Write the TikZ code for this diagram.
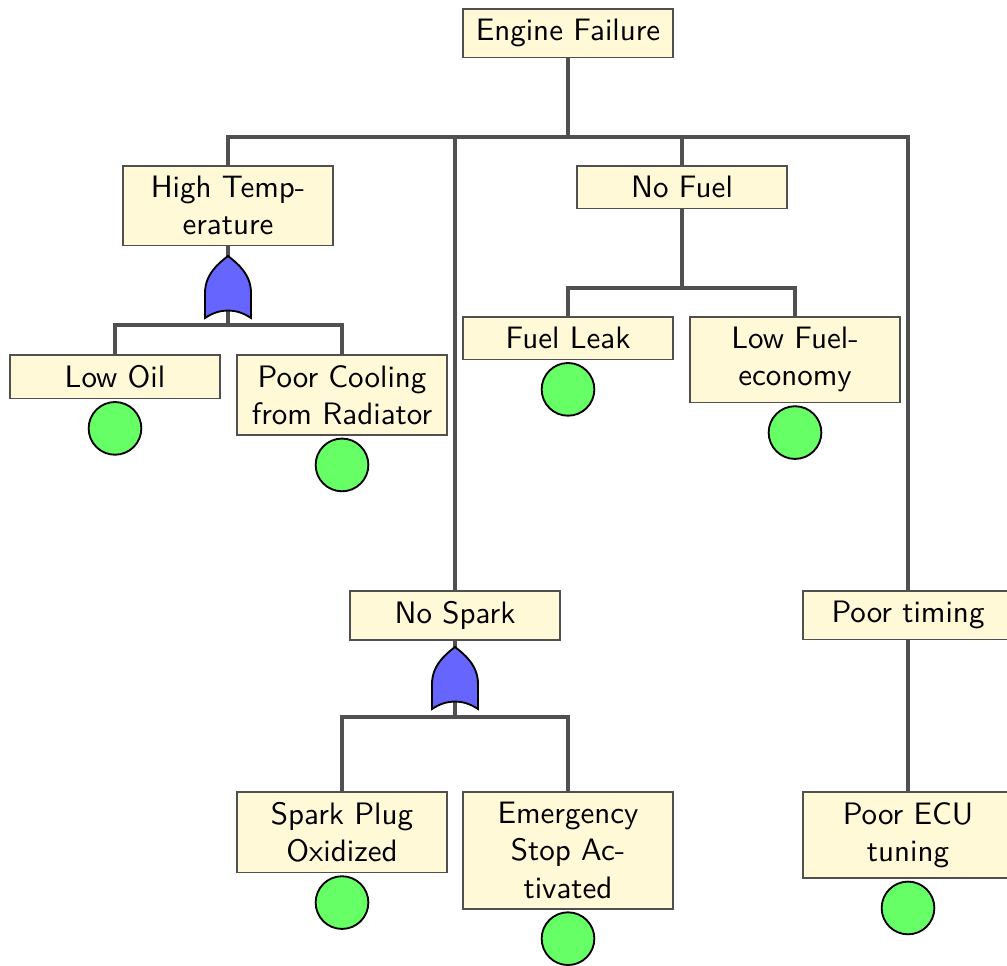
\documentclass[tikz,border=0pt]{standalone}
\usetikzlibrary{positioning}
\definecolor{boxfill}{RGB}{255,249,215}
\definecolor{linegray}{RGB}{80,80,80}
\definecolor{gatefill}{RGB}{102,102,255}
\definecolor{basicfill}{RGB}{102,255,102}
\tikzset{
  event/.style={draw=linegray, line width=0.55pt, fill=boxfill, font=\sffamily,
    align=center, minimum width=67.7pt, inner sep=0.3333em, anchor=north},
  basic/.style={circle, draw=black, line width=0.6pt, fill=basicfill,
    minimum size=17pt, inner sep=0pt},
  edge/.style={draw=linegray, line width=1pt},
  orgate/.pic={
    \draw[black, line width=0.6pt, fill=gatefill]
      (-23,0) -- (-23,-25) .. controls (-23,-44) and (-9,-55) .. (0,-62)
      .. controls (9,-55) and (23,-44) .. (23,-25) -- (23,0)
      .. controls (8,-10) and (-8,-10) .. (-23,0) -- cycle;
  }
}
\begin{document}
\begin{tikzpicture}[x=0.32258pt, y=-0.32258pt]
  \useasboundingbox (0,0) rectangle (1007,966);

  % events
  \node[event] (top) at (568,8)   {Engine Failure};
  \node[event] (ht)  at (228,165) {High Temp-\\erature};
  \node[event] (nf)  at (682,165) {No Fuel};
  \node[event] (ns)  at (455,590) {No Spark};
  \node[event] (pt)  at (908,590) {Poor timing};
  \node[event] (lo)  at (115,354) {Low Oil};
  \node[event] (pc)  at (342,354) {Poor Cooling\\from Radiator};
  \node[event] (fl)  at (568,316) {Fuel Leak};
  \node[event] (lf)  at (795,316) {Low Fuel-\\economy};
  \node[event] (sp)  at (342,791) {Spark Plug\\Oxidized};
  \node[event] (es)  at (568,791) {Emergency\\Stop Ac-\\tivated};
  \node[event] (pe)  at (908,791) {Poor ECU\\tuning};

  % junction points of the branches
  \coordinate (j0) at (568,137);
  \coordinate (j1) at (228,325);
  \coordinate (j2) at (682,288);
  \coordinate (j3) at (455,717);
  \coordinate (g1) at (228,318);
  \coordinate (g2) at (455,709);

  % connectors
  \draw[edge] (top.south) -- (j0) -| (ht.north);
  \draw[edge] (j0) -| (ns.north);
  \draw[edge] (j0) -| (nf.north);
  \draw[edge] (j0) -| (pt.north);
  \draw[edge] (ht.south) -- (j1) -| (lo.north);
  \draw[edge] (j1) -| (pc.north);
  \draw[edge] (nf.south) -- (j2) -| (fl.north);
  \draw[edge] (j2) -| (lf.north);
  \draw[edge] (ns.south) -- (j3) -| (sp.north);
  \draw[edge] (j3) -| (es.north);
  \draw[edge] (pt.south) -- (pe.north);

  % OR gates
  \pic at (g1) {orgate};
  \pic at (g2) {orgate};

  % basic events
  \node[basic, below=0.6pt of lo] (lo-b) {};
  \node[basic, below=0.6pt of pc] (pc-b) {};
  \node[basic, below=0.6pt of fl] (fl-b) {};
  \node[basic, below=0.6pt of lf] (lf-b) {};
  \node[basic, below=0.6pt of sp] (sp-b) {};
  \node[basic, below=0.6pt of es] (es-b) {};
  \node[basic, below=0.6pt of pe] (pe-b) {};
\end{tikzpicture}
\end{document}
